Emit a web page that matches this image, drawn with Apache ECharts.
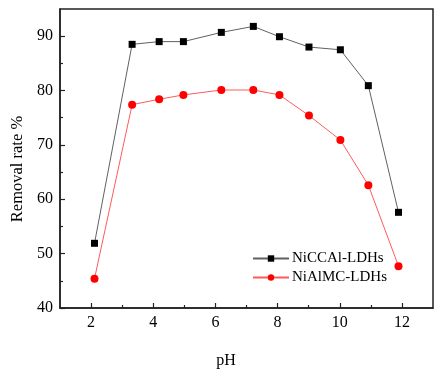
<!DOCTYPE html>
<html>
<head>
<meta charset="utf-8">
<script src="https://cdn.jsdelivr.net/npm/echarts@6/dist/echarts.min.js"></script>
<style>html,body{margin:0;padding:0;background:#fff}#c{width:442px;height:376px}</style>
</head>
<body>
<div id="c"></div>
<script>
var pH = [2.11, 3.32, 4.19, 4.97, 6.19, 7.22, 8.06, 9.01, 10.02, 10.92, 11.89];
var niccal = [51.9, 88.5, 89.0, 89.0, 90.7, 91.8, 89.9, 88.0, 87.5, 80.9, 57.6];
var nialmc = [45.4, 77.4, 78.4, 79.2, 80.1, 80.1, 79.2, 75.4, 70.9, 62.6, 47.7];
var xMajor = [2, 4, 6, 8, 10, 12];
var xMinor = [3, 5, 7, 9, 11];
var yMajor = [40, 50, 60, 70, 80, 90];
var yMinor = [45, 55, 65, 75, 85];

var font = "'Liberation Serif', 'Times New Roman', serif";
var axisCol = '#222';
function pair(a, b) { return a.map(function (v, i) { return [v, b[i]]; }); }

var chart = echarts.init(document.getElementById('c'));
chart.setOption({
  animation: false,
  grid: { left: 60, right: 9, top: 9, bottom: 68, show: true, borderColor: axisCol, borderWidth: 1.5, backgroundColor: 'transparent' },
  legend: {
    left: 252, top: 251, orient: 'vertical', itemWidth: 36, itemHeight: 8, itemGap: 4, padding: 0,
    textStyle: { fontFamily: font, fontSize: 15, color: '#000', padding: [0, 0, 0, -2] },
    data: ['NiCCAl-LDHs', 'NiAlMC-LDHs']
  },
  xAxis: [{
    type: 'value', min: 1, max: 13,
    name: 'pH', nameLocation: 'middle', nameGap: 45,
    nameTextStyle: { fontFamily: font, fontSize: 16, color: '#000', padding: [0, 41, 0, 0] },
    axisLine: { lineStyle: { color: axisCol, width: 1.5 } },
    axisTick: { inside: true, length: 5, customValues: xMajor, lineStyle: { color: axisCol, width: 1.2 } },
    axisLabel: { customValues: xMajor, fontFamily: font, fontSize: 16, color: '#000', margin: 7 },
    splitLine: { show: false }
  }, {
    type: 'value', min: 1, max: 13, position: 'bottom',
    axisLine: { show: false },
    axisTick: { inside: true, length: 3, customValues: xMinor, lineStyle: { color: axisCol, width: 1.2 } },
    axisLabel: { show: false },
    splitLine: { show: false }
  }],
  yAxis: [{
    type: 'value', min: 40, max: 95,
    name: 'Removal rate %', nameLocation: 'middle', nameGap: 25,
    nameTextStyle: { fontFamily: font, fontSize: 16.5, color: '#000', padding: [0, 21, 0, 0] },
    axisLine: { lineStyle: { color: axisCol, width: 1.5 } },
    axisTick: { inside: true, length: 5, customValues: yMajor, lineStyle: { color: axisCol, width: 1.2 } },
    axisLabel: { customValues: yMajor, fontFamily: font, fontSize: 16, color: '#000', margin: 7 },
    splitLine: { show: false }
  }, {
    type: 'value', min: 40, max: 95, position: 'left',
    axisLine: { show: false },
    axisTick: { inside: true, length: 3, customValues: yMinor, lineStyle: { color: axisCol, width: 1.2 } },
    axisLabel: { show: false },
    splitLine: { show: false }
  }],
  series: [{
    name: 'NiCCAl-LDHs', type: 'line', data: pair(pH, niccal),
    symbol: 'rect', symbolSize: 7,
    itemStyle: { color: '#000' },
    lineStyle: { color: '#606060', width: 1 }
  }, {
    name: 'NiAlMC-LDHs', type: 'line', data: pair(pH, nialmc),
    symbol: 'circle', symbolSize: 8,
    itemStyle: { color: '#ff0000' },
    lineStyle: { color: '#ff5a5a', width: 1 }
  }]
});
</script>
</body>
</html>
